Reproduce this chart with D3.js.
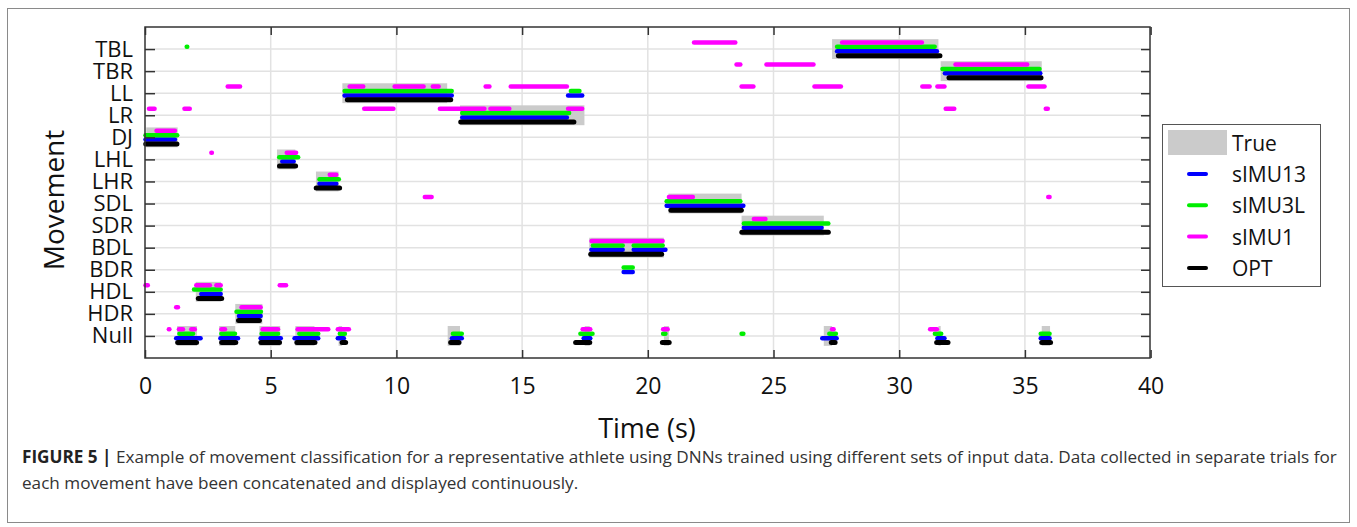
<!DOCTYPE html>
<html>
<head>
<meta charset="utf-8">
<script src="https://cdn.jsdelivr.net/npm/d3@7"></script>
<style>
  html, body { margin: 0; padding: 0; background: #fff; }
  svg { display: block; }
  text { font-family: "Open Sans", "Noto Sans", sans-serif; }
</style>
</head>
<body>
<svg id="chart" width="1357" height="527"></svg>
<script>
// ---------- DATA ----------
const categories = ["TBL","TBR","LL","LR","DJ","LHL","LHR","SDL","SDR","BDL","BDR","HDL","HDR","Null"];
const xTicks = [0, 5, 10, 15, 20, 25, 30, 35, 40];

// [movement, start (s), end (s)]
const trueSegs = [
  ["DJ",0.05,1.3],["HDL",2.02,3.02],["HDR",3.59,4.67],["LHL",5.25,5.98],["LHR",6.8,7.7],
  ["LL",7.85,12.02],["LR",12.53,17.48],["BDL",17.67,20.64],["SDL",20.82,23.73],["SDR",23.73,27.0],
  ["TBL",27.33,31.56],["TBR",31.65,35.67],
  ["Null",1.28,2.07],["Null",2.95,3.59],["Null",4.55,5.38],["Null",5.98,6.74],["Null",7.7,7.84],
  ["Null",12.04,12.53],["Null",17.49,17.69],["Null",20.64,20.84],["Null",27.0,27.33],
  ["Null",31.56,31.65],["Null",35.67,36.0]
];

const sIMU13 = [
  ["DJ",-0.07,1.28],["HDL",2.15,3.1],["HDR",3.65,4.69],["LHL",5.37,6.0],["LHR",6.85,7.7],
  ["LL",7.85,12.29],["LL",16.74,17.48],["LR",12.53,16.87],["BDL",17.67,19.09],["BDL",19.35,20.79],
  ["BDR",18.95,19.49],["SDL",20.66,23.89],["SDR",23.73,27.0],["TBL",27.44,31.59],["TBR",31.73,35.7],
  ["Null",1.15,2.3],["Null",2.91,3.79],["Null",4.51,5.49],["Null",5.86,6.98],["Null",7.58,8.0],
  ["Null",12.12,12.69],["Null",17.36,17.8],["Null",26.85,27.6],["Null",31.43,31.89],["Null",35.54,36.07]
];

const sIMU3L = [
  ["TBL",1.57,1.77],["TBL",27.44,31.5],["DJ",-0.07,1.37],["HDL",1.86,3.1],["HDR",3.55,4.7],
  ["LHL",5.25,6.18],["LHR",6.85,7.8],["LL",7.85,12.29],["LL",16.85,17.37],["LR",12.53,16.96],
  ["BDL",17.73,19.09],["BDL",19.35,20.68],["BDR",18.95,19.49],["SDL",20.66,23.77],["SDR",23.73,27.27],
  ["TBR",31.63,35.67],
  ["Null",1.28,2.0],["Null",2.95,3.67],["Null",4.55,5.38],["Null",6.05,6.98],["Null",7.66,8.04],
  ["Null",12.16,12.69],["Null",17.23,17.89],["Null",20.52,20.79],["Null",23.64,23.89],
  ["Null",27.13,27.57],["Null",31.33,31.76],["Null",35.54,36.07]
];

const sIMU1 = [
  ["TBL",21.75,23.57],["TBL",27.64,30.99],
  ["TBR",23.44,23.77],["TBR",24.63,26.68],["TBR",32.15,35.18],
  ["LL",3.2,3.87],["LL",8.05,8.77],["LL",9.84,11.17],["LL",11.36,11.77],["LL",13.46,13.79],
  ["LL",14.46,16.87],["LL",23.64,24.29],["LL",26.54,27.77],["LL",30.83,31.3],["LL",31.43,31.89],["LL",35.05,35.87],
  ["LR",0.07,0.47],["LR",1.48,1.87],["LR",8.63,9.97],["LR",11.64,13.59],["LR",13.65,14.58],
  ["LR",16.74,17.48],["LR",31.76,32.28],["LR",35.74,36.0],
  ["DJ",0.37,1.28],["LHL",2.55,2.75],["LHL",5.55,6.1],["LHR",7.26,7.7],
  ["SDL",11.04,11.49],["SDL",20.75,21.88],["SDL",35.84,36.07],["SDR",24.13,24.77],["BDL",17.67,20.68],
  ["HDL",-0.07,0.2],["HDL",1.95,2.67],["HDL",2.75,3.1],["HDL",5.27,5.7],
  ["HDR",1.15,1.4],["HDR",3.75,4.69],
  ["Null",0.86,1.06],["Null",1.26,1.6],["Null",1.75,2.07],["Null",2.95,3.27],["Null",4.59,5.38],
  ["Null",5.98,7.38],["Null",7.58,8.2],["Null",17.32,17.8],["Null",20.52,20.88],["Null",27.24,27.48],["Null",31.14,31.59]
];

const OPT = [
  ["DJ",-0.07,1.37],["HDL",2.02,3.15],["HDR",3.62,4.65],["LHL",5.25,6.09],["LHR",6.71,7.84],
  ["LL",7.95,12.26],["LR",12.46,17.16],["BDL",17.63,20.65],["SDL",20.82,23.82],["SDR",23.64,27.28],
  ["TBL",27.48,31.72],["TBR",31.88,35.74],
  ["Null",1.2,2.15],["Null",2.95,3.71],["Null",4.51,5.45],["Null",5.94,6.86],["Null",7.74,8.08],
  ["Null",12.06,12.59],["Null",17.03,17.79],["Null",20.48,20.95],["Null",27.2,27.55],
  ["Null",31.39,32.04],["Null",35.57,36.12]
];

const seriesNames = ["sIMU13","sIMU3L","sIMU1","OPT"];
const seriesData = { sIMU13: sIMU13, sIMU3L: sIMU3L, sIMU1: sIMU1, OPT: OPT };

// ---------- STYLE ----------
const colors = { sIMU13: "#0000ff", sIMU3L: "#00ee00", sIMU1: "#ff00ff", OPT: "#000000" };
const offsets = { sIMU1: 0.3, sIMU3L: 0.1, sIMU13: -0.1, OPT: -0.3 };
const widths = { sIMU1: 4.5, sIMU3L: 4.5, sIMU13: 4.5, OPT: 5 };

const svg = d3.select("#chart");
const L = 145, R = 1150, T = 27, B = 358;

const x = d3.scaleLinear().domain([0, 40]).range([145, 1150.6]);
const catIndex = c => categories.length - categories.indexOf(c); // TBL=14 ... Null=1
const y = d3.scaleLinear().domain([0, 15]).range([B, T]);

// outer frame
svg.append("rect").attr("x", 7.5).attr("y", 8.5).attr("width", 1342).attr("height", 514)
  .attr("fill", "none").attr("stroke", "#8a8a8a").attr("stroke-width", 1);

// gridlines
const grid = svg.append("g");
categories.forEach(c => {
  grid.append("line").attr("x1", L).attr("x2", R).attr("y1", y(catIndex(c))).attr("y2", y(catIndex(c)))
    .attr("stroke", "#e2e2e2").attr("stroke-width", 1.5);
});
xTicks.filter(t => t > 0 && t < 40).forEach(t => {
  grid.append("line").attr("x1", x(t)).attr("x2", x(t)).attr("y1", T).attr("y2", B)
    .attr("stroke", "#e2e2e2").attr("stroke-width", 1.5);
});

// true rects
svg.append("g").selectAll("rect").data(trueSegs).join("rect")
  .attr("x", d => x(d[1]))
  .attr("width", d => x(d[2]) - x(d[1]))
  .attr("y", d => y(catIndex(d[0]) + 0.45))
  .attr("height", d => y(catIndex(d[0]) - 0.45) - y(catIndex(d[0]) + 0.45))
  .attr("fill", "#cbcbcb");

// series lines (round caps inside measured extents)
seriesNames.forEach(s => {
  const w = widths[s];
  svg.append("g").selectAll("line").data(seriesData[s]).join("line")
    .attr("x1", d => { const a = x(d[1]) + w / 2, b = x(d[2]) - w / 2; return a <= b ? a : (a + b) / 2; })
    .attr("x2", d => { const a = x(d[1]) + w / 2, b = x(d[2]) - w / 2; return a <= b ? b : (a + b) / 2; })
    .attr("y1", d => y(catIndex(d[0]) + offsets[s]))
    .attr("y2", d => y(catIndex(d[0]) + offsets[s]))
    .attr("stroke", colors[s]).attr("stroke-width", w).attr("stroke-linecap", "round");
});

// axes
const yAxisL = d3.axisLeft(y).tickValues(categories.map(catIndex)).tickFormat(v => categories[categories.length - v])
  .tickSizeInner(-10).tickSizeOuter(0).tickPadding(12);
const gy = svg.append("g").attr("transform", `translate(${L},0)`).call(yAxisL);
gy.select(".domain").remove();
gy.selectAll("line").attr("stroke", "#333").attr("stroke-width", 1.5);
gy.selectAll("text").attr("font-size", 22).attr("fill", "#111").attr("font-family", '"Open Sans", sans-serif');

const yAxisR = d3.axisRight(y).tickValues(categories.map(catIndex)).tickFormat("").tickSizeInner(-9).tickSizeOuter(0);
const gyr = svg.append("g").attr("transform", `translate(${R},0)`).call(yAxisR);
gyr.select(".domain").remove();
gyr.selectAll("line").attr("stroke", "#333").attr("stroke-width", 1.5);

const xAxisB = d3.axisBottom(x).tickValues(xTicks).tickFormat(d3.format("d"))
  .tickSizeInner(-8).tickSizeOuter(0).tickPadding(20);
const gx = svg.append("g").attr("transform", `translate(0,${B})`).call(xAxisB);
gx.select(".domain").remove();
gx.selectAll("line").attr("stroke", "#333").attr("stroke-width", 1.5);
gx.selectAll("text").attr("font-size", 23).attr("fill", "#111").attr("font-family", '"Open Sans", sans-serif');

const xAxisT = d3.axisTop(x).tickValues(xTicks).tickFormat("").tickSizeInner(-8).tickSizeOuter(0);
const gxt = svg.append("g").attr("transform", `translate(0,${T})`).call(xAxisT);
gxt.select(".domain").remove();
gxt.selectAll("line").attr("stroke", "#333").attr("stroke-width", 1.5);

// plot box
svg.append("rect").attr("x", L).attr("y", T).attr("width", R - L).attr("height", B - T)
  .attr("fill", "none").attr("stroke", "#333").attr("stroke-width", 1.5);

// axis titles
svg.append("text").attr("x", 647).attr("y", 427).attr("text-anchor", "middle").attr("dominant-baseline", "central")
  .attr("font-size", 27).attr("fill", "#111").text("Time (s)");
svg.append("text").attr("transform", "translate(53,200) rotate(-90)").attr("text-anchor", "middle")
  .attr("dominant-baseline", "central").attr("font-size", 28).attr("fill", "#111").text("Movement");

// legend
const lg = svg.append("g");
lg.append("rect").attr("x", 1162.5).attr("y", 124.5).attr("width", 158).attr("height", 162)
  .attr("fill", "#fff").attr("stroke", "#555").attr("stroke-width", 1);
lg.append("rect").attr("x", 1168).attr("y", 130).attr("width", 59).attr("height", 25).attr("fill", "#cbcbcb");
lg.append("text").attr("x", 1232).attr("y", 143).attr("dominant-baseline", "central")
  .attr("font-size", 21).attr("fill", "#111").text("True");
const legendOrder = ["sIMU13", "sIMU3L", "sIMU1", "OPT"];
legendOrder.forEach((s, i) => {
  const yy = 174 + i * 31.3;
  lg.append("line").attr("x1", 1189).attr("x2", 1206).attr("y1", yy).attr("y2", yy)
    .attr("stroke", colors[s]).attr("stroke-width", 4).attr("stroke-linecap", "round");
  lg.append("text").attr("x", 1232).attr("y", yy).attr("dominant-baseline", "central")
    .attr("font-size", 21).attr("fill", "#111").text(s);
});

// caption
const cap1 = svg.append("text").attr("x", 22).attr("y", 463).attr("font-size", 15).attr("fill", "#333");
cap1.append("tspan").attr("font-weight", "bold").attr("fill", "#222").text("FIGURE 5 | ");
cap1.append("tspan").text("Example of movement classification for a representative athlete using DNNs trained using different sets of input data. Data collected in separate trials for");
const cap2 = svg.append("text").attr("x", 22).attr("y", 489).attr("font-size", 15).attr("fill", "#333")
  .text("each movement have been concatenated and displayed continuously.");
// fit caption width to the reference line width
const w1 = cap1.node().getComputedTextLength();
const fs = 15 * 1316 / w1;
cap1.attr("font-size", fs);
cap2.attr("font-size", fs);
</script>
</body>
</html>
